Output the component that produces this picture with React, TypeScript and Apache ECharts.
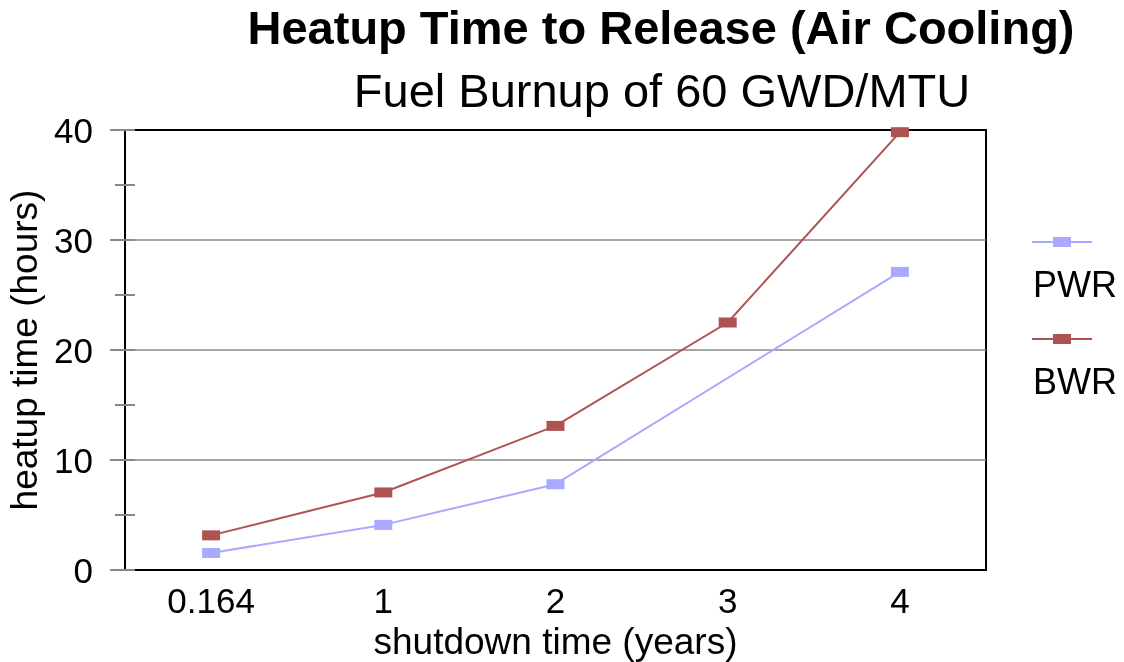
import React, { useEffect, useRef } from "react";
import * as echarts from "echarts";

const categories = ["0.164", "1", "2", "3", "4"];
const pwrValues = [1.55, 4.1, 7.8, null, 27.1];
const bwrValues = [3.15, 7.05, 13.1, 22.5, 39.8];
const seriesNames = ["PWR", "BWR"];
const seriesColors = ["#a9a9ff", "#ae5252"];

const FONT = "'Liberation Sans', Arial, sans-serif";

export default function App() {
  const ref = useRef<HTMLDivElement>(null);
  useEffect(() => {
    if (!ref.current) return;
    const chart = echarts.init(ref.current, null, { renderer: "svg" });
    const legendItems: any[] = [];
    seriesNames.forEach((name, i) => {
      const ly = 242 + i * 97;
      legendItems.push(
        { type: "line", shape: { x1: 1032, y1: ly, x2: 1092, y2: ly }, style: { stroke: seriesColors[i], lineWidth: 2 } },
        { type: "rect", shape: { x: 1053, y: ly - 5, width: 18, height: 10 }, style: { fill: seriesColors[i] } },
        { type: "text", x: 1033, y: ly + 42, style: { text: name, font: `36px ${FONT}`, fill: "#000", verticalAlign: "middle", align: "left" } }
      );
    });
    chart.setOption({
      animation: false,
      textStyle: { fontFamily: FONT },
      title: [
        {
          text: "Heatup Time to Release (Air Cooling)",
          left: 661, top: 4, padding: 0, textAlign: "center",
          textStyle: { fontSize: 47, fontWeight: "bold", color: "#000", fontFamily: FONT },
        },
        {
          text: "Fuel Burnup of 60 GWD/MTU",
          left: 662, top: 67, padding: 0, textAlign: "center",
          textStyle: { fontSize: 47, fontWeight: "normal", color: "#000", fontFamily: FONT },
        },
      ],
      grid: {
        left: 125, right: 138, top: 130, bottom: 92,
        outerBoundsMode: "none", containLabel: false,
        show: true, borderColor: "#000", borderWidth: 2, backgroundColor: "transparent",
      },
      xAxis: {
        type: "category",
        data: categories,
        boundaryGap: true,
        name: "shutdown time (years)",
        nameLocation: "middle",
        nameGap: 45,
        nameTextStyle: { fontSize: 37, color: "#000", fontFamily: FONT },
        axisLine: { lineStyle: { color: "#000", width: 2 } },
        axisTick: { alignWithLabel: true, length: 10, lineStyle: { color: "#888", width: 2 } },
        axisLabel: { fontSize: 35, color: "#000", margin: 13, fontFamily: FONT },
        splitLine: { show: false },
      },
      yAxis: [
        {
          type: "value",
          min: 0, max: 40, interval: 10,
          name: "heatup time (hours)",
          nameLocation: "middle",
          nameGap: 78,
          nameTextStyle: { fontSize: 37, color: "#000", fontFamily: FONT },
          axisLine: { show: true, lineStyle: { color: "#000", width: 2 } },
          axisTick: { show: true, length: 15, lineStyle: { color: "#888", width: 2 } },
          minorTick: { show: true, splitNumber: 2, length: 10, lineStyle: { color: "#888", width: 2 } },
          axisLabel: { fontSize: 35, color: "#000", margin: 32, fontFamily: FONT },
          splitLine: { show: true, showMaxLine: false, lineStyle: { color: "#888", width: 1.5 } },
        },
        {
          type: "value",
          position: "left",
          min: 0, max: 40, interval: 5,
          axisLine: { show: false },
          axisTick: { show: true, inside: true, length: 10, lineStyle: { color: "#888", width: 2 } },
          axisLabel: { show: false },
          splitLine: { show: false },
        },
      ],
      series: [
        {
          name: seriesNames[0], type: "line", data: pwrValues, yAxisIndex: 0,
          connectNulls: true, symbol: "rect", symbolSize: [18, 10],
          itemStyle: { color: seriesColors[0] }, lineStyle: { color: seriesColors[0], width: 2 },
        },
        {
          name: seriesNames[1], type: "line", data: bwrValues, yAxisIndex: 0,
          connectNulls: true, symbol: "rect", symbolSize: [18, 10],
          itemStyle: { color: seriesColors[1] }, lineStyle: { color: seriesColors[1], width: 2 },
        },
      ],
      graphic: legendItems,
    });
    return () => chart.dispose();
  }, []);
  return <div ref={ref} style={{ position: "fixed", left: 0, top: 0, width: 1124, height: 662 }} />;
}
